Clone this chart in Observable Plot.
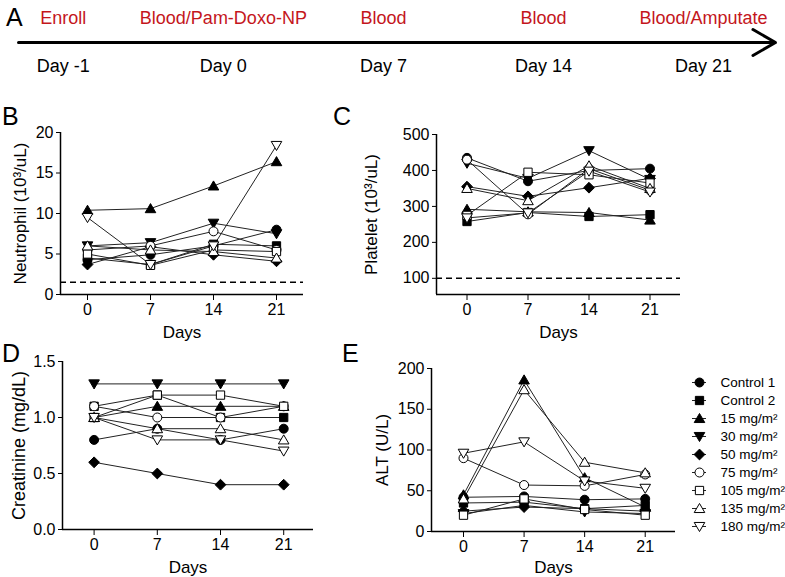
<!DOCTYPE html>
<html><head><meta charset="utf-8">
<script src="https://cdn.jsdelivr.net/npm/d3@7"></script>
<script src="https://cdn.jsdelivr.net/npm/@observablehq/plot@0.6"></script>
<style>
body{margin:0;background:#fff;}
#chart{position:relative;width:785px;height:577px;font-family:"Liberation Sans",Arial,sans-serif;overflow:hidden;}
#chart svg{position:absolute;overflow:visible;}
.letter{position:absolute;font-size:25px;line-height:1;color:#000;}
</style></head><body><div id="chart"></div>
<script>
// ---------- data ----------
const stageEvents = ["Enroll", "Blood/Pam-Doxo-NP", "Blood", "Blood", "Blood/Amputate"];
const stageDays = ["Day -1", "Day 0", "Day 7", "Day 14", "Day 21"];
const series = ["Control 1", "Control 2", "15 mg/m²", "30 mg/m²", "50 mg/m²", "75 mg/m²", "105 mg/m²", "135 mg/m²", "180 mg/m²"];
const filledSeries = ["Control 1", "Control 2", "15 mg/m²", "30 mg/m²", "50 mg/m²"];
const days = [0, 7, 14, 21];

const neutrophil = [
  [4.3, 4.9, 6.0, 8.0],
  [4.5, 3.7, 6.2, 6.0],
  [10.4, 10.6, 13.4, 16.4],
  [6.0, 6.4, 8.8, 7.5],
  [3.7, 5.9, 4.9, 4.1],
  [5.5, 6.0, 7.8, 5.5],
  [5.0, 3.6, 5.5, 5.3],
  [6.0, 5.5, 5.3, 4.5],
  [9.5, 3.7, 6.0, 18.4]
];
const platelet = [
  [435, 370, 400, 405],
  [258, 283, 272, 277],
  [292, 285, 283, 262],
  [420, 378, 455, 375],
  [355, 328, 352, 378],
  [430, 278, 405, 345],
  [275, 395, 388, 365],
  [350, 316, 413, 350],
  [268, 282, 398, 340]
];
const creatinine = [
  [0.8, 0.9, 0.8, 0.9],
  [1.1, 1.2, 1.0, 1.0],
  [1.0, 1.1, 1.1, 1.1],
  [1.3, 1.3, 1.3, 1.3],
  [0.6, 0.5, 0.4, 0.4],
  [1.1, 1.0, 1.0, 1.1],
  [1.0, 1.2, 1.2, 1.1],
  [1.0, 0.9, 0.9, 0.8],
  [1.0, 0.8, 0.8, 0.7]
];
const alt = [
  [42, 43, 39, 40],
  [35, 36, 28, 32],
  [45, 186, 66, 30],
  [22, 32, 24, 22],
  [25, 30, 28, 25],
  [90, 57, 56, 70],
  [20, 40, 27, 20],
  [40, 174, 85, 72],
  [96, 110, 62, 53]
];
const neutrophilThreshold = [1.5];
const plateletThreshold = [100];
const neutrophilTicks = [0, 5, 10, 15, 20];
const plateletTicks = [100, 200, 300, 400, 500];
const creatinineTicks = [0, 0.5, 1.0, 1.5];
const altTicks = [0, 50, 100, 150, 200];
const panelLetters = ["A", "B", "C", "D", "E"];

// ---------- symbols ----------
const rad = (size) => Math.sqrt(size / Math.PI);
const circleSym = {draw(c, size) { const r = rad(size); c.moveTo(r, 0); c.arc(0, 0, r, 0, 2 * Math.PI); }};
const squareSym = {draw(c, size) { const r = rad(size) * 0.92; c.rect(-r, -r, 2 * r, 2 * r); }};
const triUpSym = {draw(c, size) { const r = rad(size) * 1.12; c.moveTo(0, -r); c.lineTo(r * 1.05, r * 0.8); c.lineTo(-r * 1.05, r * 0.8); c.closePath(); }};
const triDownSym = {draw(c, size) { const r = rad(size) * 1.12; c.moveTo(0, r); c.lineTo(r * 1.05, -r * 0.8); c.lineTo(-r * 1.05, -r * 0.8); c.closePath(); }};
const diamondSym = {draw(c, size) { const r = rad(size) * 1.2; c.moveTo(0, -r); c.lineTo(r, 0); c.lineTo(0, r); c.lineTo(-r, 0); c.closePath(); }};
const seriesSymbols = [circleSym, squareSym, triUpSym, triDownSym, diamondSym, circleSym, squareSym, triUpSym, triDownSym];

const FONT = '"Liberation Sans", Arial, sans-serif';
const chart = document.getElementById("chart");
function place(svg, left, top) { svg.style.left = left + "px"; svg.style.top = top + "px"; chart.appendChild(svg); }

// ---------- panel A: timeline ----------
const timelineDomain = [-0.28, 4.45];
const timelineRows = ["event", "arrow", "day"];
const panelA = Plot.plot({
  width: 785, height: 90,
  marginLeft: 18, marginRight: 10, marginTop: 18, marginBottom: 24,
  x: {domain: timelineDomain, axis: null},
  y: {type: "point", domain: timelineRows, padding: 0, axis: null},
  style: {fontFamily: FONT, background: "transparent", overflow: "visible"},
  marks: [
    Plot.arrow([0], {x1: () => timelineDomain[0], x2: () => timelineDomain[1], y1: () => "arrow", y2: () => "arrow",
      stroke: "black", strokeWidth: 3, headLength: 13, headAngle: 60}),
    Plot.text(stageEvents, {x: (d, i) => i, y: () => "event", text: d => d, fill: "#c4161c", fontSize: 18, textAnchor: "middle"}),
    Plot.text(stageDays, {x: (d, i) => i, y: () => "day", text: d => d, fill: "black", fontSize: 18, textAnchor: "middle"})
  ]
});
place(panelA, 0, 0);

// ---------- data panels ----------
function rowsOf(values) {
  return series.flatMap((s, i) => days.map((d, j) => ({series: s, day: d, value: values[i][j]})));
}
function panel(o) {
  const data = rowsOf(o.values);
  const marks = [
    Plot.ruleX([o.xDomain[0]], {stroke: "black", strokeWidth: 1.5}),
    Plot.ruleY([o.yDomain[0]], {stroke: "black", strokeWidth: 1.5})
  ];
  if (o.threshold) marks.push(Plot.ruleY(o.threshold, {stroke: "black", strokeWidth: 1.5, strokeDasharray: "6,4"}));
  series.forEach((s) => {
    marks.push(Plot.line(data.filter(d => d.series === s), {x: "day", y: "value", stroke: "#222", strokeWidth: 1}));
  });
  series.forEach((s, i) => {
    marks.push(Plot.dot(data.filter(d => d.series === s), {x: "day", y: "value", symbol: seriesSymbols[i], r: o.r || 4.5,
      fill: filledSeries.includes(s) ? "black" : "white", stroke: "black", strokeWidth: 1}));
  });
  marks.push(Plot.text([o.xTitle], {frameAnchor: "bottom", text: d => d, dy: o.xTitleDy, fontSize: o.titleSize, textAnchor: "middle", lineAnchor: "middle"}));
  marks.push(Plot.text([o.yTitle], {frameAnchor: "left", text: d => d, dx: o.yTitleDx, rotate: -90, fontSize: o.yTitleSize, textAnchor: "middle", lineAnchor: "middle"}));
  const svg = Plot.plot({
    width: o.width, height: o.height,
    marginLeft: o.ml, marginRight: o.mr, marginTop: o.mt, marginBottom: o.mb,
    x: {domain: o.xDomain, ticks: days, tickSize: 6, tickPadding: 3, label: null},
    y: {domain: o.yDomain, ticks: o.yTicks, tickSize: 4, tickPadding: 3, label: null, tickFormat: o.yFormat},
    style: {fontFamily: FONT, fontSize: o.tickSize + "px", color: "black", background: "transparent", overflow: "visible"},
    marks
  });
  place(svg, o.left, o.top);
}

panel({values: neutrophil, left: 0, top: 90, width: 320, height: 260, ml: 60, mr: 17, mt: 42, mb: 56,
  xDomain: [-3, 24], yDomain: [0, 20], yTicks: neutrophilTicks, threshold: neutrophilThreshold,
  xTitle: "Days", yTitle: "Neutrophil (10³/uL)", xTitleDy: 38, yTitleDx: -40, titleSize: 17, yTitleSize: 17, tickSize: 16});

panel({values: platelet, left: 340, top: 90, width: 350, height: 260, ml: 96, mr: 10, mt: 44, mb: 56,
  xDomain: [-3.5, 24.5], yDomain: [55, 500], yTicks: plateletTicks, threshold: plateletThreshold,
  xTitle: "Days", yTitle: "Platelet (10³/uL)", xTitleDy: 38, yTitleDx: -65, titleSize: 17, yTitleSize: 17, tickSize: 16});

panel({values: creatinine, left: 0, top: 335, width: 320, height: 242, ml: 62, mr: 7, mt: 26, mb: 48,
  xDomain: [-3.5, 24.3], yDomain: [0, 1.5], yTicks: creatinineTicks, yFormat: d3.format(".1f"),
  xTitle: "Days", yTitle: "Creatinine (mg/dL)", xTitleDy: 38, yTitleDx: -43, titleSize: 17, yTitleSize: 18, tickSize: 16});

panel({values: alt, left: 340, top: 335, width: 340, height: 242, ml: 91, mr: 5, mt: 33, mb: 46,
  xDomain: [-3.7, 24.5], yDomain: [0, 200], yTicks: altTicks,
  xTitle: "Days", yTitle: "ALT (U/L)", xTitleDy: 36, yTitleDx: -49, titleSize: 17, yTitleSize: 17, tickSize: 16});

// ---------- legend ----------
const legendMarks = [Plot.ruleY(series, {y: d => d, stroke: "#222", strokeWidth: 1})];
series.forEach((s, i) => legendMarks.push(Plot.dot([s], {y: d => d, symbol: seriesSymbols[i], r: 4.5,
  fill: filledSeries.includes(s) ? "black" : "white", stroke: "black", strokeWidth: 1})));
legendMarks.push(Plot.text(series, {y: d => d, text: d => d, frameAnchor: "right", textAnchor: "start", dx: 14, fontSize: 13.5}));
const legend = Plot.plot({
  width: 105, height: 185, marginLeft: 12, marginRight: 79, marginTop: 19, marginBottom: 17,
  y: {type: "point", domain: series, padding: 0, axis: null},
  style: {fontFamily: FONT, color: "black", background: "transparent", overflow: "visible"},
  marks: legendMarks
});
place(legend, 680, 360);

// ---------- panel letters ----------
const letterPos = [[6, 5], [2, 104], [333, 104], [2, 341], [342, 341]];
panelLetters.forEach((L, i) => {
  const div = document.createElement("div");
  div.className = "letter"; div.textContent = L;
  div.style.left = letterPos[i][0] + "px"; div.style.top = letterPos[i][1] + "px";
  chart.appendChild(div);
});
</script></body></html>
